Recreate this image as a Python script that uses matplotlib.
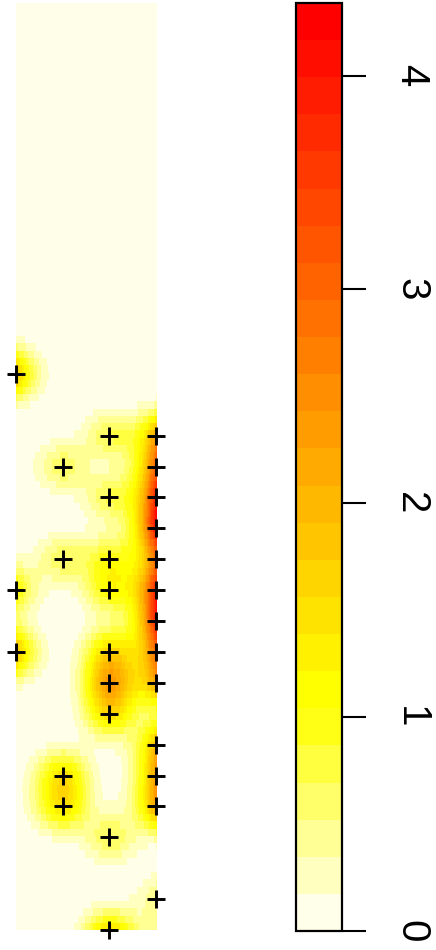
import math
import numpy as np
import matplotlib
matplotlib.use("Agg")
import matplotlib.pyplot as plt
from matplotlib.colors import ListedColormap, BoundaryNorm, hsv_to_rgb
from matplotlib.cm import ScalarMappable

# ---- data: weighted point pattern in its rectangular window ----
win_x = [0.0, 3.6]
win_y = [0.0, 24.0]
pts_x = [0.0,
         2.4, 3.6,
         1.2, 3.6,
         2.4, 3.6,
         3.6,
         1.2, 2.4, 3.6,
         0.0, 2.4, 3.6,
         3.6,
         0.0, 2.4, 3.6,
         2.4, 3.6,
         2.4,
         3.6,
         1.2, 3.6,
         1.2, 3.6,
         2.4,
         3.6,
         2.4]
pts_y = [14.4,
         12.8, 12.8,
         12.0, 12.0,
         11.2, 11.2,
         10.4,
         9.6, 9.6, 9.6,
         8.8, 8.8, 8.8,
         8.0,
         7.2, 7.2, 7.2,
         6.4, 6.4,
         5.6,
         4.8,
         4.0, 4.0,
         3.2, 3.2,
         2.4,
         0.8,
         0.0]
pts_w = [1.2,
         0.85, 1.2,
         0.8, 1.45,
         0.85, 1.84,
         2.16,
         0.8, 1.05, 1.08,
         0.75, 1.15, 2.0,
         1.9,
         1.25, 1.6, 1.3,
         2.3, 1.15,
         1.5,
         1.1,
         1.55, 1.1,
         1.55, 1.3,
         0.85,
         0.35,
         1.05]
cbar_ticks = [0, 1, 2, 3, 4]
n_colours = 25
n_pix = 128

# ---- kernel density (Gaussian, default bandwidth, uniform edge correction) ----
px = np.array(pts_x, float)
py = np.array(pts_y, float)
pw = np.array(pts_w, float)
sigma = min(win_x[1] - win_x[0], win_y[1] - win_y[0]) / 8.0
gx = win_x[0] + (np.arange(n_pix) + 0.5) * (win_x[1] - win_x[0]) / n_pix
gy = win_y[0] + (np.arange(n_pix) + 0.5) * (win_y[1] - win_y[0]) / n_pix
Phi = np.vectorize(lambda z: 0.5 * (1 + math.erf(z / math.sqrt(2))))
ex = Phi((win_x[1] - gx) / sigma) - Phi((win_x[0] - gx) / sigma)
ey = Phi((win_y[1] - gy) / sigma) - Phi((win_y[0] - gy) / sigma)
kx = np.exp(-((gx[None, :] - px[:, None]) ** 2) / (2 * sigma ** 2))
ky = np.exp(-((gy[None, :] - py[:, None]) ** 2) / (2 * sigma ** 2))
dens = np.einsum("p,pi,pj->ij", pw, ky, kx) / (2 * np.pi * sigma ** 2)
dens = dens / (ey[:, None] * ex[None, :])

# ---- R heat.colors(25), reversed ----
j = n_colours // 4
i = n_colours - j
cols = [hsv_to_rgb((h, 1.0, 1.0)) for h in np.linspace(0, 1 / 6, i)]
cols += [hsv_to_rgb((1 / 6, s, 1.0)) for s in np.linspace(1 - 1 / (2 * j), 1 / (2 * j), j)]
cmap = ListedColormap(cols[::-1])
vmin, vmax = 0.0, float(dens.max())
norm = BoundaryNorm(np.linspace(vmin, vmax, n_colours + 1), n_colours)

# ---- figure ----
W, H = 436, 950
fig = plt.figure(figsize=(W / 100, H / 100), dpi=100)
ax = fig.add_axes([16 / W, (H - 930) / H, 140 / W, 927 / H])
ax.imshow(dens, origin="lower", extent=[win_x[0], win_x[1], win_y[0], win_y[1]],
          cmap=cmap, norm=norm, interpolation="nearest", aspect="auto")
ax.plot(px, py, linestyle="none", marker="+", color="black",
        markersize=13, markeredgewidth=2.1, clip_on=False)
ax.set_xlim(win_x)
ax.set_ylim(win_y)
ax.axis("off")

cax = fig.add_axes([296 / W, (H - 931) / H, 46 / W, 928 / H])
cb = fig.colorbar(ScalarMappable(norm=norm, cmap=cmap), cax=cax)
cb.outline.set_linewidth(1.6)
cb.set_ticks([t for t in cbar_ticks if t <= vmax])
cax.yaxis.set_ticks_position("right")
cax.tick_params(axis="y", length=17, width=1.5, pad=19, labelsize=29,
                labelrotation=-90)
for t in cax.get_yticklabels():
    t.set_fontfamily("Liberation Sans")
    t.set_verticalalignment("center")
cax.minorticks_off()

fig.savefig("out.png", dpi=100)
